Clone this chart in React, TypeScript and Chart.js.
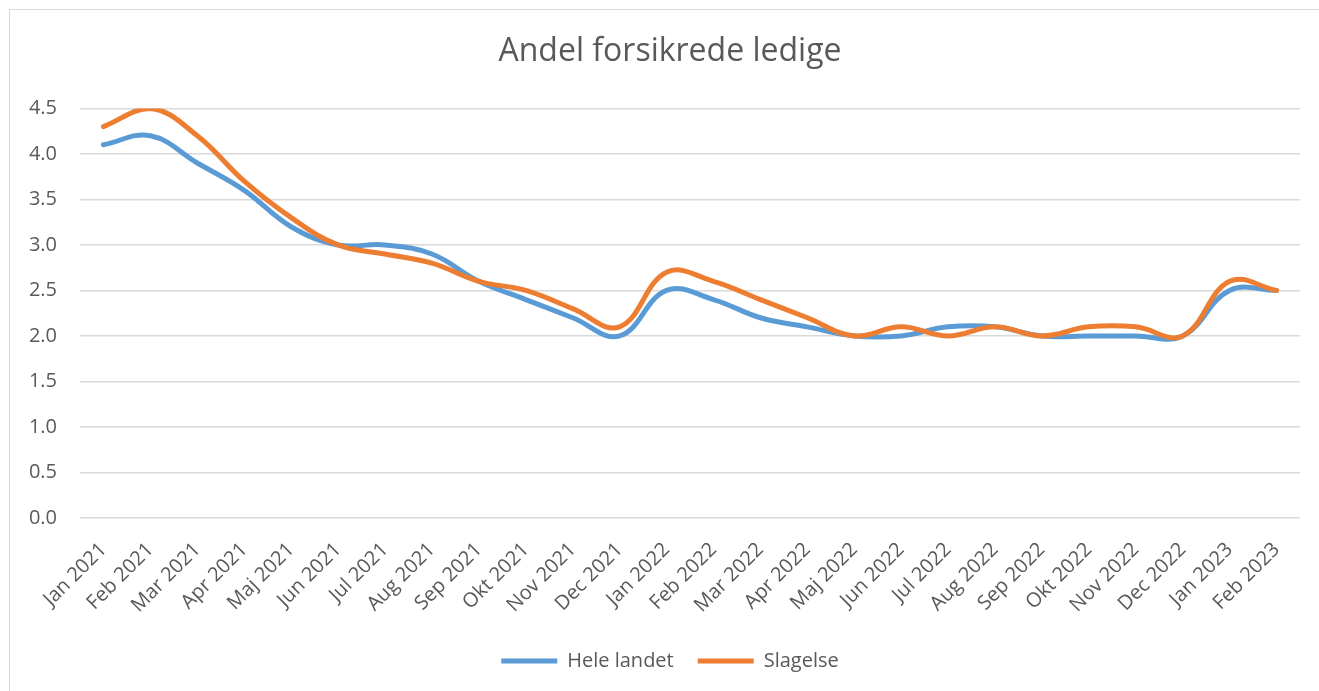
import React, { useEffect, useRef } from "react";
import { Chart, registerables } from "chart.js";

Chart.register(...registerables);

const categories = [
  "Jan 2021", "Feb 2021", "Mar 2021", "Apr 2021", "Maj 2021", "Jun 2021",
  "Jul 2021", "Aug 2021", "Sep 2021", "Okt 2021", "Nov 2021", "Dec 2021",
  "Jan 2022", "Feb 2022", "Mar 2022", "Apr 2022", "Maj 2022", "Jun 2022",
  "Jul 2022", "Aug 2022", "Sep 2022", "Okt 2022", "Nov 2022", "Dec 2022",
  "Jan 2023", "Feb 2023",
];

const heleLandet = [
  4.1, 4.2, 3.9, 3.6, 3.2, 3.0, 3.0, 2.9, 2.6, 2.4, 2.2, 2.0,
  2.5, 2.4, 2.2, 2.1, 2.0, 2.0, 2.1, 2.1, 2.0, 2.0, 2.0, 2.0,
  2.5, 2.5,
];

const slagelse = [
  4.3, 4.5, 4.2, 3.7, 3.3, 3.0, 2.9, 2.8, 2.6, 2.5, 2.3, 2.1,
  2.7, 2.6, 2.4, 2.2, 2.0, 2.1, 2.0, 2.1, 2.0, 2.1, 2.1, 2.0,
  2.6, 2.5,
];

const seriesNames = ["Hele landet", "Slagelse"];
const titleText = "Andel forsikrede ledige";

const FONT = "'Open Sans', 'Noto Sans', sans-serif";
const TEXT = "#595959";
const CANVAS_W = 1340;
const CANVAS_H = 691;

export default function App() {
  const ref = useRef<HTMLCanvasElement | null>(null);

  useEffect(() => {
    document.body.style.overflow = "hidden";
    document.documentElement.style.overflow = "hidden";
    const canvas = ref.current;
    if (!canvas) return;
    const chart = new Chart(canvas, {
      type: "line",
      data: {
        labels: categories,
        datasets: [
          {
            label: seriesNames[0],
            data: heleLandet,
            borderColor: "#5B9BD5",
            backgroundColor: "#5B9BD5",
            borderWidth: 5,
            borderCapStyle: "round",
            borderJoinStyle: "round",
            pointRadius: 0,
            tension: 0.4,
            order: 1,
          },
          {
            label: seriesNames[1],
            data: slagelse,
            borderColor: "#ED7D31",
            backgroundColor: "#ED7D31",
            borderWidth: 5,
            borderCapStyle: "round",
            borderJoinStyle: "round",
            pointRadius: 0,
            tension: 0.4,
            order: 0,
          },
        ],
      },
      options: {
        animation: false,
        responsive: false,
        devicePixelRatio: 1,
        layout: { padding: { left: 0, right: 0, top: 0, bottom: 10 } },
        plugins: {
          title: {
            display: true,
            text: titleText,
            color: TEXT,
            font: { family: FONT, size: 32, weight: "normal" },
            padding: { top: 33, bottom: 37 },
          },
          legend: {
            display: true,
            position: "bottom",
            labels: {
              usePointStyle: true,
              pointStyle: "line",
              pointStyleWidth: 56,
              boxHeight: 20,
              color: TEXT,
              font: { family: FONT, size: 20 },
              padding: 24,
              sort: (a: any, b: any) => a.datasetIndex - b.datasetIndex,
            },
          },
          tooltip: { enabled: false },
        },
        scales: {
          x: {
            offset: true,
            grid: { display: false, drawTicks: false },
            border: { display: false },
            ticks: {
              autoSkip: false,
              maxRotation: 45,
              minRotation: 45,
              color: TEXT,
              font: { family: FONT, size: 20 },
              padding: 20,
            },
            afterFit: (s: any) => {
              s.height = 109;
            },
          },
          y: {
            min: 0,
            max: 4.5,
            grid: { color: "#d9d9d9", lineWidth: 1.5, drawTicks: false },
            border: { display: false },
            ticks: {
              stepSize: 0.5,
              color: TEXT,
              font: { family: FONT, size: 20 },
              padding: 23,
              callback: (v: any) => Number(v).toFixed(1),
            },
            afterFit: (s: any) => {
              s.width = 80;
            },
          },
          ySpacer: {
            type: "linear",
            position: "right",
            display: true,
            grid: { display: false, drawTicks: false },
            border: { display: false },
            ticks: { display: false },
            afterFit: (s: any) => {
              s.width = 40;
            },
          },
        },
      },
    });
    return () => chart.destroy();
  }, []);

  return (
    <div style={{ position: "absolute", left: 0, top: 0, width: 1319, height: 691, overflow: "hidden", background: "#fff" }}>
      <div
        style={{
          position: "absolute",
          left: 9,
          top: 9,
          width: 1310,
          height: 682,
          borderLeft: "1.5px solid #d9d9d9",
          borderTop: "1.5px solid #d9d9d9",
          boxSizing: "border-box",
        }}
      />
      <canvas
        ref={ref}
        width={CANVAS_W}
        height={CANVAS_H}
        style={{ position: "absolute", left: 0, top: 0, width: CANVAS_W, height: CANVAS_H }}
      />
    </div>
  );
}
